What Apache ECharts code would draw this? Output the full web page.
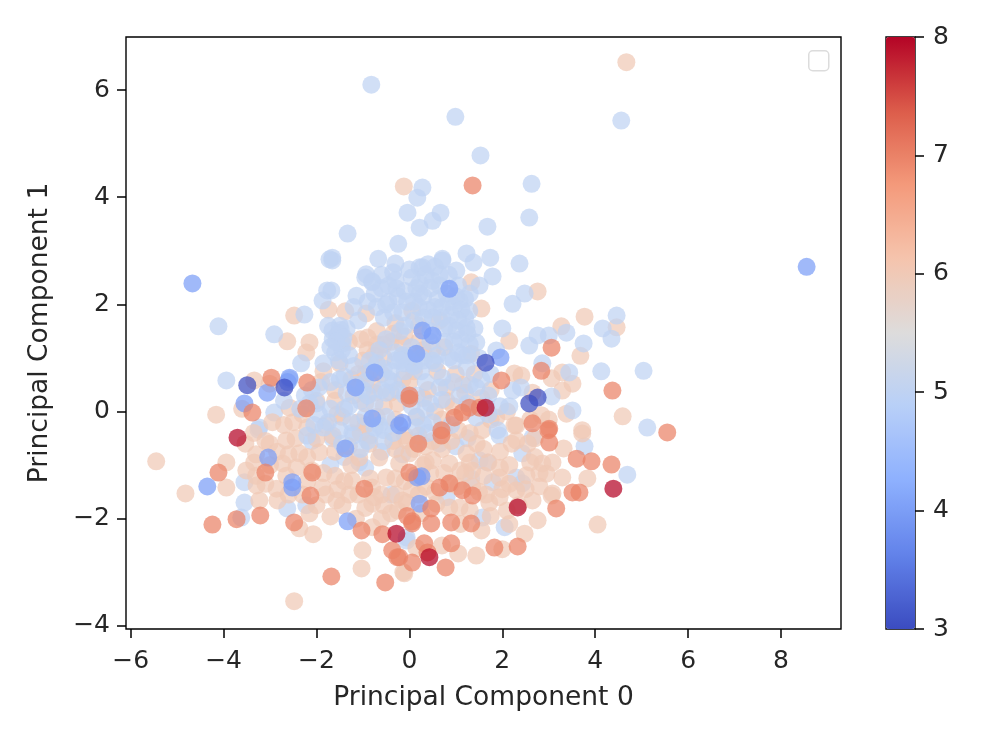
<!DOCTYPE html>
<html><head><meta charset="utf-8">
<style>html,body{margin:0;padding:0;background:#fff}#c{width:1000px;height:750px}</style>
<script src="https://cdn.jsdelivr.net/npm/echarts@6/dist/echarts.min.js"></script>
</head><body><div id="c"></div>
<script>
const xTicks=[-6,-4,-2,0,2,4,6,8];
const yTicks=[-4,-2,0,2,4,6];
const xTitle="Principal Component 0";
const yTitle="Principal Component 1";
const quality5Low=[[-2.91,-.02],[-3.23,-.30],[-3.25,-.34],[-3.55,-1.32],[-3.55,-1.70],[-3.62,-1.98],[-2.63,-1.81],[-2.22,-1.75],[-.39,-1.55],[-.06,-2.41],[-1.08,-.95],[-1.23,-.4],[-1.65,-.5],[-.85,-.45],[-.55,-.35],[.3,-.25],[.65,-.6],[.2,-.55],[1.94,-.45],[2.65,-.49],[3.77,-.65],[4.69,-1.18],[2.43,-1.34],[2.30,-1.23],[1.68,-.95],[1.51,-.91],[1.33,-1.25],[1.79,-1.32],[2.43,-.78],[.80,-1.60],[2.05,-2.16],[1.57,-1.98],[-.06,-2.35],[5.12,-.30],[-2.1,-.55],[-1.4,-.85],[-1.7,-1.0],[-.95,-1.05],[-.6,-.75],[-.15,-.8],[1.0,-.65],[1.25,-.5]];
const quality6=[[4.67,6.52],[-.12,4.2],[2.76,2.24],[3.77,1.77],[3.27,1.59],[4.46,1.57],[2.15,1.32],[3.68,1.04],[4.59,-.09],[2.26,.71],[3.29,.73],[2.41,.67],[3.38,-.04],[2.84,-.07],[3.72,-.35],[3.51,.52],[3.29,.39],[1.55,1.92],[1.33,2.41],[3.06,.62],[1.33,1.08],[1.87,-.11],[2.30,-.26],[-2.48,1.79],[-1.74,1.90],[-1.38,1.87],[-.93,1.83],[-2.15,1.29],[-2.22,1.10],[-2.63,1.31],[-4.16,-.06],[-3.34,.58],[-3.01,.52],[-2.58,.07],[-.90,1.38],[.06,1.88],[3.72,-.41],[3.32,-.69],[3.08,-.95],[3.29,-1.23],[3.83,-1.25],[3.06,-1.57],[4.05,-2.11],[2.76,-2.03],[2.48,-2.28],[2.00,-2.57],[1.44,-2.69],[1.05,-2.65],[1.55,-2.22],[-.11,-3.02],[1.72,-1.70],[-.06,-1.70],[0,-.78],[.5,-.91],[.86,-.97],[1.23,-.78],[1.57,-.35],[2.26,-.26],[2.30,-.54],[2.86,-.97],[2.95,-1.16],[2.52,-1.19],[1.94,-1.23],[1.94,-1.6],[.86,-1.79],[.58,-1.72],[1.08,-1.79],[2.30,-1.47],[2.65,-1.66],[3.08,-1.53],[-3.53,-.60],[-5.45,-.93],[-4.82,-1.53],[-3.94,-.95],[-3.94,-1.42],[-3.51,-1.10],[-3.34,-.95],[-3.29,-1.38],[-3.23,-1.66],[-2.86,-1.44],[-2.84,-1.66],[-3.01,-.60],[-2.65,-.54],[-2.37,-.78],[-2.73,-.97],[-2.43,-1.04],[-1.94,-.76],[-1.87,-1.42],[-1.57,-1.66],[-1.70,-1.96],[-1.44,-1.75],[-2.07,-2.29],[-2.37,-2.18],[-1.01,-2.59],[-1.03,-2.93],[-.13,-3.0],[-2.48,-3.54],[-.80,-2.16],[-.80,-1.72],[-1.23,-1.29],[-.80,-1.42],[-.50,-1.23],[-.15,-1.66],[-1.08,-.86],[-.65,-.86],[-.22,-.97],[-.06,-.54],[-.86,-.6],[-2.2,-.3],[-1.8,-.25],[-1.45,-.1],[-1.1,-.2],[-.7,-.1],[-.3,-.15],[.15,-.1],[.55,.0],[.95,.1],[-2.0,.2],[-1.6,.4],[-1.2,.3],[-.8,.5],[-.4,.35],[0,.55],[.4,.4],[.8,.45],[1.2,.35],[-1.5,.9],[-1.0,.95],[-.55,1.0],[-.15,1.25],[.3,1.15],[.75,1.2],[-.7,1.5],[-.3,1.65],[.2,1.6],[.65,1.7],[-1.3,1.3],[-1.85,.75],[-.35,-.55],[.2,-.45],[.75,-.35],[1.3,-.4],[1.6,-.7],[-1.3,-1.55],[-.4,-1.9],[-.1,-1.3],[.35,-1.4],[.3,-1.0],[.9,-1.35],[1.35,-1.1],[1.5,-1.5],[-2.1,-1.1],[-1.6,-1.2],[-2.5,-.2],[-3.6,.05],[2.7,-.5],[2.8,-1.4],[.15,-2.55],[.7,-2.5],
[-1.9,.55],[-1.55,-.05],[-1.25,.6],[-.95,.15],[-.6,.7],[-.25,.15],[.1,.75],[.6,.75],[1.0,.7],[1.4,.7],[-2.3,-.05],[-2.0,-.5],[-1.65,-.45],[-1.3,-.65],[-.95,-.25],[-.55,.1],[-.1,-.45],[.35,-.65],[.7,-.15],[1.05,-.35],[1.45,-.6],[1.75,-.15],[1.95,-.75],[2.15,-1.0],[2.55,-.6],[2.7,-.85],[-2.6,-.8],[-2.2,-1.3],[-1.85,-1.15],[-1.55,-1.45],[-1.25,-1.0],[-.95,-1.8],[-.6,-1.55],[-.3,-1.25],[.05,-1.45],[.45,-1.15],[.7,-.7],[1.1,-1.1],[1.6,-1.2],[1.3,-1.85],[1.75,-1.95],[2.1,-1.85],[2.35,-1.75],[-1.15,-2.0],[-.6,-2.0],[.25,-1.9],[-2.0,-1.75],[-2.65,-1.2],[-3.1,-1.35],[-3.3,-1.2],[-.4,1.3],[.05,1.0],[.5,1.15],[-.9,1.15],[-1.1,.7],[-1.6,.2],[-.15,.6],[.3,.25],[.8,.2],[1.55,.25],[1.15,.5],[1.75,.4],[2.1,.0],[2.2,-.6],[2.6,-.15],[3.0,-.15],[2.65,.35],[-2.7,-.25],[-2.95,-.2],[-3.35,-.4],
[-.95,.7],[-.75,1.05],[-.55,1.25],[-.35,1.45],[-.1,1.4],[.2,1.3],[-.7,1.25],[-1.05,1.35],[-.75,.35],[-.3,-.7],[.1,-.7],[.5,-.55],[.9,-.55],[1.3,-.95],[1.7,-.95],[1.95,-1.05],[2.15,-1.35],[2.5,-1.45],[2.8,-1.15],[2.6,-.95],[-1.4,-1.3],[-1.1,-1.55],[-.85,-1.25],[-.55,-1.75],[-.3,-1.55],[-.25,-1.85],[.1,-1.2],[.2,-1.55],[.55,-1.5],[.75,-1.15],[1.05,-1.4],[1.2,-1.15],[1.1,-2.1],[1.65,-1.55],[1.35,-1.4],[2.0,-1.45],[2.15,-2.1],[-1.8,-1.55],[-2.3,-1.55],[-2.15,-1.9],[-1.6,-.75],[-2.2,-.85],[-2.45,-.5],[-3.0,-1.0],[-3.1,-.55],[-3.3,-.8],[-2.85,-.75],[-2.6,-1.55],[-1.05,-.4],[.35,-.95],[-.75,-1.6]];
const quality5High=[[-.82,6.10],[.99,5.50],[4.56,5.43],[1.53,4.78],[2.63,4.25],[2.58,3.62],[1.68,3.45],[.28,4.18],[.17,3.99],[-.04,3.71],[.67,3.71],[.50,3.56],[.22,3.43],[-1.33,3.32],[-.24,3.13],[-.67,2.85],[-.30,2.76],[-.93,2.56],[-.80,2.41],[.28,2.69],[.71,2.82],[1.23,2.95],[1.38,2.78],[1.74,2.87],[1.79,2.52],[1.51,2.35],[2.37,2.76],[2.48,2.20],[2.22,2.01],[2.00,1.55],[-1.66,2.82],[-1.66,2.87],[-1.14,2.16],[-1.68,2.26],[-.28,2.3],[.22,2.2],[.6,2.1],[-.45,2.05],[.05,2.5],[.22,2.69],[.71,2.85],[1.01,2.63],[.22,2.39],[.50,2.44],[.80,2.2],[1.08,2.07],[1.29,1.88],[1.23,1.57],[1.01,1.51],[1.44,1.29],[-4.11,1.59],[-2.91,1.44],[-2.26,1.81],[-3.94,.58],[-1.77,2.26],[-1.87,2.07],[-1.72,2.84],[-.95,2.5],[-.8,2.43],[-1.51,1.46],[-1.66,1.51],[-1.44,1.27],[-1.6,1.1],[-1.35,1.55],[-.11,.90],[-.3,.95],[.06,.9],[-.15,1.05],[-.06,1.01],[-2.33,.90],[-1.85,.9],[-1.5,.6],[-1.2,.85],[-2.1,.4],[-2.0,.15],[-2.25,.3],[-1.4,.05],[-1.05,.2],[-.75,.15],[-2.58,.6],[2.58,1.23],[2.76,1.42],[3.0,1.42],[3.38,1.47],[4.46,1.79],[4.16,1.55],[4.35,1.36],[3.75,1.27],[4.13,.75],[5.04,.76],[1.87,1.14],[2.22,.39],[2.4,.45],[3.06,.28],[3.51,.02],[2.86,.90],[3.44,.73],[.5,.95],[.86,1.01],[1.23,.82],[.71,.63],[1.08,.3],[1.44,.45],[1.44,-.11],[.45,.15],[.05,.1],[-.35,.55],[-.7,.9],[.45,1.5],[.75,1.55],[.1,2.05],[-.2,1.5],[.9,1.8],[1.3,2.2],[.4,1.9],[-.55,1.75],[-.9,2.05],[-.6,2.3],[-1.1,1.7],[-.95,.55],[.35,.55],[1.75,.7],[1.95,.1],
[-1.5,1.6],[-1.65,1.35],[-1.45,1.15],[-1.75,1.6],[-1.2,1.95],[-.7,1.95],[-.35,2.6],[-.1,2.25],[.35,2.55],[.55,2.7],[.85,2.55],[1.05,2.35],[.65,2.35],[.95,1.95],[1.2,2.1],[.2,1.95],[-.15,1.85],[.75,1.3],[1.1,1.35],[1.25,1.45],[.95,1.3],[1.4,1.55],[1.5,1.0],[1.15,1.05],[.55,.9],[.25,.75],[-.55,.8],[-.85,.75],[-.4,.75],[-.1,.75],[.1,.85],[-1.4,.65],[-1.0,.4],[-1.7,.05],[-1.75,-.2],[-1.3,.1],[-.5,.35],[-.25,.4],[.15,.3],[.7,.22],[1.25,.15],[1.7,.3],[1.9,-.35],[2.15,.1],[-2.35,.05],[-2.7,.2],[-1.95,-.05],[.5,-.2],[.15,-.1],[-1.25,-.2],[-.95,-.1],[-.65,-.25],[-.35,-.4],
[-1.55,1.42],[-1.48,1.52],[-1.58,1.3],[-1.42,1.38],[-1.7,1.2],[-1.3,1.05],[-1.52,.95],[-.6,2.55],[-.45,2.35],[-.25,2.15],[-.05,2.05],[.15,2.3],[.3,2.15],[.45,2.3],[.55,1.95],[.7,1.95],[.85,2.05],[1.0,2.15],[1.12,1.9],[1.2,1.75],[1.05,1.7],[.85,1.6],[.7,1.75],[.5,1.75],[.3,1.75],[.1,1.7],[-.1,1.6],[-.35,1.85],[-.5,2.0],[-.75,2.2],[-.3,2.45],[0,2.65],[.4,2.75],[.65,2.55],[-.5,1.35],[-.3,1.1],[-.65,1.15],[-.85,.95],[-.45,.6],[-.2,.95],[.05,1.2],[.25,1.0],[.45,1.3],[.6,1.05],[.3,.95],[.95,.95],[1.05,1.1],[1.3,1.25],[1.25,1.05],[.65,.45],[.95,.55],[1.3,.5],[1.55,.6],[.35,.05],[.15,-.3],[.4,-.4],[-.1,.3],[-.6,.4],[-.9,.3],[-1.15,.5],[-1.35,.35],[-1.7,.55],[-1.95,.45],[-2.15,.15],[-1.85,-.3],[-2.05,-.25],[-1.5,-.35],[-1.2,-.45],[-.9,-.55],[-.55,-.55],[-.75,-.3],[-1.45,-.6],[-1.05,-.7],[-2.2,-.45],[-.5,-.1],[.9,-.25],[1.7,-.05],[1.65,.1]];
const quality4=[[-4.67,2.39],[8.55,2.70],[-2.58,.63],[-3.06,.35],[-3.55,.15],[-1.16,.45],[-.80,-.13],[-.15,-.21],[-.75,.73],[1.96,1.01],[.50,1.42],[.28,1.51],[.86,2.29],[.15,1.08],[.26,-1.21],[-.22,-.26],[.22,-1.72],[-4.35,-1.40],[-3.04,-.86],[-2.52,-1.32],[-2.52,-1.42],[-1.33,-2.05],[-1.38,-.69],[.17,-1.23],[-2.62,.55]];
const quality7=[[1.36,4.22],[-2.97,.63],[-3.38,-.02],[-2.20,.54],[-2.22,.06],[0,.24],[0,.3],[3.06,1.19],[4.37,.39],[1.98,.58],[2.84,.76],[5.55,-.39],[1.29,.07],[1.51,.07],[.97,-.11],[1.14,-.02],[.69,-.35],[3.01,-.32],[2.65,-.22],[4.35,-.99],[3.92,-.93],[3.60,-.88],[3.66,-1.51],[3.51,-1.51],[3.01,-.58],[2.99,-.35],[3.16,-1.81],[.69,-.45],[.19,-.60],[2.33,-2.52],[1.83,-2.54],[.78,-2.91],[.06,-2.82],[-.22,-2.72],[.32,-2.46],[.39,-2.63],[.90,-2.07],[1.33,-2.09],[.06,-2.09],[.47,-2.09],[.47,-1.81],[.86,-1.34],[.65,-1.42],[1.14,-1.47],[1.36,-1.57],[.90,-2.46],[0,-1.14],[-4.11,-1.14],[-3.10,-1.14],[-4.24,-2.11],[-3.72,-2.01],[-3.21,-1.94],[-2.48,-2.07],[-2.13,-1.57],[-2.09,-1.14],[-.97,-1.44],[-1.68,-3.08],[-.52,-3.19],[-1.03,-2.22],[-.58,-2.29],[-.26,-2.72],[-.37,-2.59],[.06,-2.05],[-.05,-1.95]];
const quality3=[[-3.49,.49],[-2.69,.45],[2.76,.26],[2.58,.15],[1.64,.91]];
const quality8=[[-3.70,-.49],[1.64,.07],[4.39,-1.44],[2.33,-1.79],[.43,-2.72],[-.28,-2.28]];
const layers=[[quality5Low,5],[quality6,6],[quality5High,5],[quality4,4],[quality7,7],[quality3,3],[quality8,8]];
const coolwarm=['#3b4cc0','#6282ea','#8db0fe','#b8cff8','#dddcdc','#f5c4ad','#f49a7b','#dc5d4a','#b40426'];
const points=[];layers.forEach(([list,q])=>list.forEach(p=>points.push([p[0],p[1],q])));
const minus=v=>String(v).replace('-','\u2212');
const ink='#262626',fs=25,tfs=26.5,ff='"DejaVu Sans"';
const chart=echarts.init(document.getElementById('c'),null,{renderer:'canvas'});
const axisBits=(vals,m)=>({axisLine:{show:false,onZero:false},splitLine:{show:false},
 axisTick:{show:true,length:9,inside:false,customValues:vals,lineStyle:{color:'#000',width:1.5}},
 axisLabel:{customValues:vals,formatter:minus,color:ink,fontSize:fs,fontFamily:ff,margin:m,showMinLabel:true,showMaxLabel:true}});
chart.setOption({
 animation:false,backgroundColor:'#fff',
 grid:[{left:126,top:37,width:715,height:592,show:true,borderColor:'#000',borderWidth:1.4,backgroundColor:'transparent'},
       {left:886,top:37,width:29,height:592,show:true,borderColor:'#000',borderWidth:1.4,backgroundColor:'transparent'}],
 xAxis:[{type:'value',gridIndex:0,min:-6.1,max:9.29,...axisBits(xTicks,20),name:xTitle,nameLocation:'middle',nameGap:56,nameTextStyle:{color:ink,fontSize:tfs,fontFamily:ff}},
        {type:'value',gridIndex:1,min:0,max:1,show:false}],
 yAxis:[{type:'value',gridIndex:0,min:-4.06,max:6.99,...axisBits(yTicks,16),name:yTitle,nameLocation:'middle',nameGap:72,nameRotate:90,nameTextStyle:{color:ink,fontSize:tfs,fontFamily:ff}},
        {type:'value',gridIndex:1,position:'right',min:3,max:8,interval:1,axisLine:{show:false,onZero:false},splitLine:{show:false},
         axisTick:{show:true,length:9,lineStyle:{color:'#000',width:1.5}},axisLabel:{color:ink,fontSize:fs,fontFamily:ff,margin:18}}],
 visualMap:{type:'continuous',min:3,max:8,dimension:2,seriesIndex:0,show:true,calculable:false,realtime:false,hoverLink:false,
   left:886,top:37,padding:0,itemWidth:29,itemHeight:592,inRange:{color:coolwarm},borderWidth:0,text:null},
 graphic:[{type:'rect',left:808,top:50,z:50,shape:{width:20,height:20,r:4},style:{fill:'#fff',stroke:'#dcdcdc',lineWidth:1.5}}],
 series:[{type:'scatter',xAxisIndex:0,yAxisIndex:0,symbol:'circle',symbolSize:18,data:points,itemStyle:{opacity:0.72},large:false,silent:true}]
});
</script></body></html>
